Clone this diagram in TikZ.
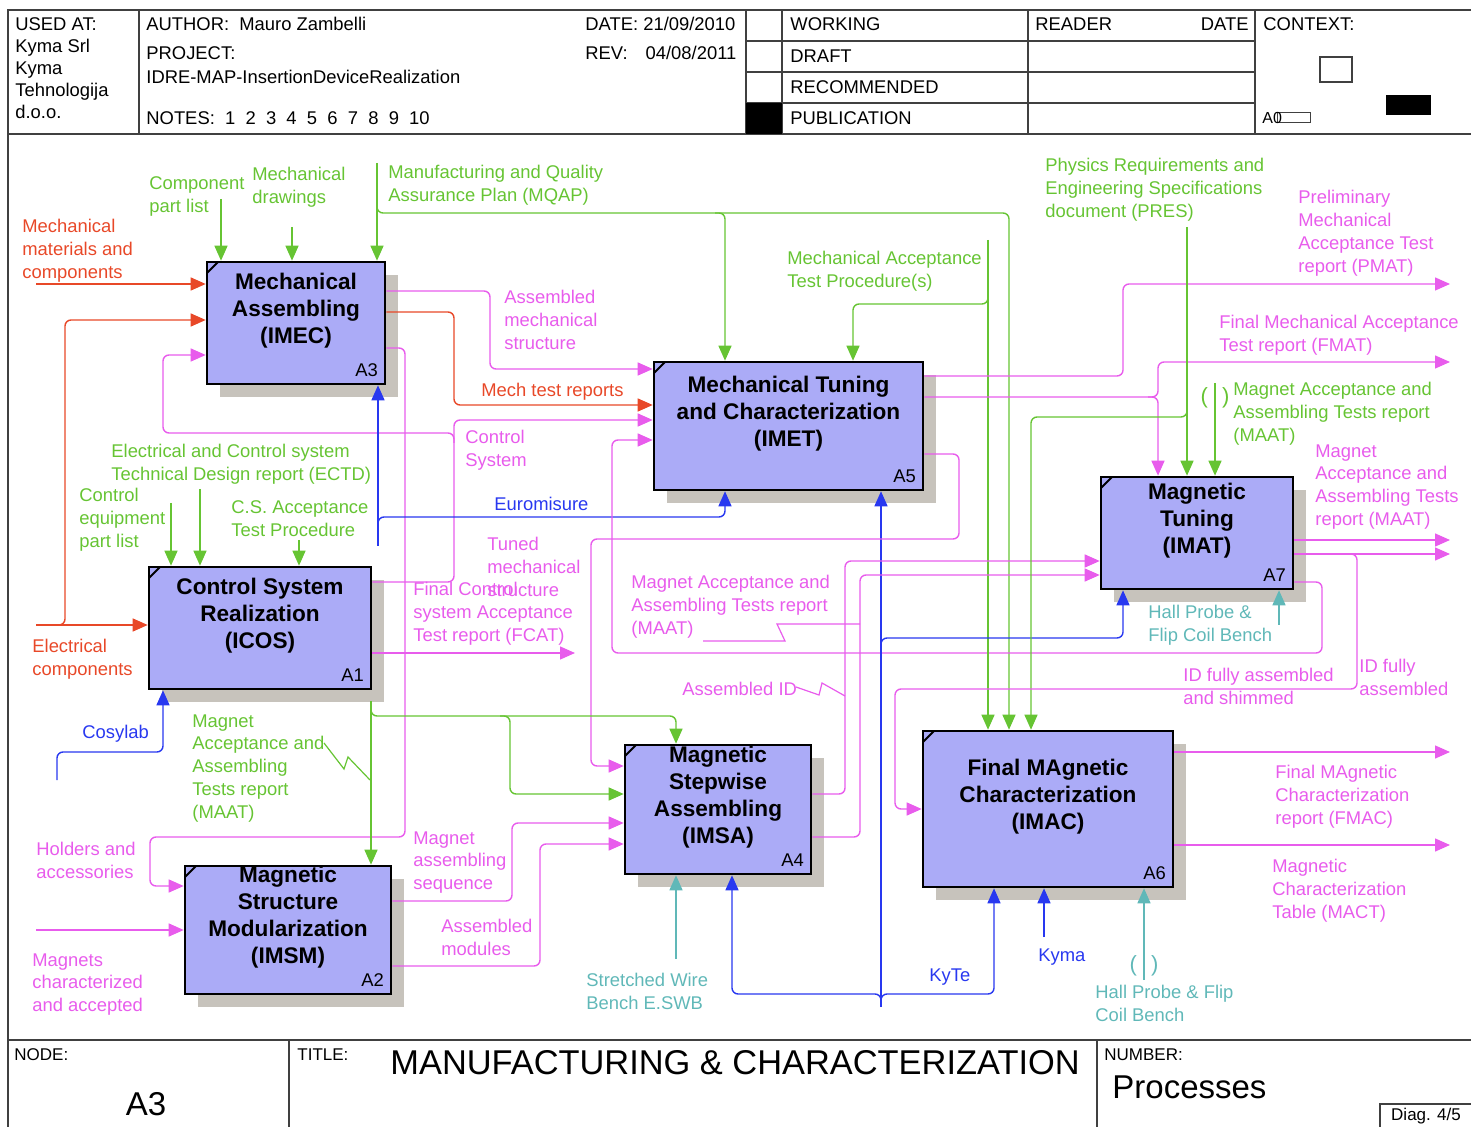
\documentclass[tikz,border=0pt]{standalone}
\usepackage{fontspec}
\setmainfont{Liberation Sans}
\usetikzlibrary{arrows.meta,shadows}

\definecolor{cgreen}{RGB}{102,196,51}
\definecolor{cred}{RGB}{232,72,40}
\definecolor{cmag}{RGB}{232,92,236}
\definecolor{cblue}{RGB}{40,56,240}
\definecolor{cteal}{RGB}{96,184,184}
\definecolor{boxfill}{RGB}{171,171,247}
\definecolor{shadowc}{RGB}{199,195,188}

\tikzset{
    process/.style={draw=black, line width=1.3pt, fill=boxfill, inner sep=0pt, align=center,
        font=\fontsize{11.3}{13.5}\selectfont\bfseries, text depth=15pt,
        drop shadow={shadow xshift=6.5pt, shadow yshift=-6.5pt, fill=shadowc, opacity=1},
        path picture={\draw [line width=1pt] ([yshift=-5.5pt]path picture bounding box.north west) -- ([xshift=5.5pt]path picture bounding box.north west);}},
    boxno/.style={font=\fontsize{9.2}{11}\selectfont, inner sep=0pt, anchor=south east},
    lbl/.style={font=\fontsize{9.2}{11.4}\selectfont, align=left, anchor=north west, inner sep=0pt},
    glbl/.style={lbl, text=cgreen},
    rlbl/.style={lbl, text=cred},
    mlbl/.style={lbl, text=cmag},
    blbl/.style={lbl, text=cblue},
    tlbl/.style={lbl, text=cteal},
    hdr/.style={font=\fontsize{9.2}{11}\selectfont, anchor=west, inner sep=0pt},
    small/.style={font=\fontsize{8.5}{10}\selectfont, anchor=west, inner sep=0pt},
    big/.style={font=\fontsize{16.5}{18}\selectfont, inner sep=0pt},
    tunnel/.style={font=\fontsize{11}{11}\selectfont, inner sep=0pt},
    frame/.style={draw=black!75, line width=0.8pt},
    flow/.style={line width=0.7pt, rounded corners=3pt, -{Triangle[length=7.5pt, width=6.5pt]}},
    garrow/.style={flow, draw=cgreen},
    rarrow/.style={flow, draw=cred},
    marrow/.style={flow, draw=cmag},
    barrow/.style={flow, draw=cblue},
    tarrow/.style={flow, draw=cteal},
    squiggle/.style={line width=0.6pt}
}

\begin{document}
\begin{tikzpicture}[x=0.5pt, y=-0.5pt]
    \useasboundingbox (0,0) rectangle (1471,1127);

    \draw [frame] (8,1127) -- (8,10) -- (1471,10);
    \draw [frame] (8,134) -- (1471,134);
    \draw [frame] (8,1040) -- (1471,1040);
    \foreach \xx in {139,746,782,1028,1255}
        \draw [frame] (\xx,10) -- (\xx,134);
    \foreach \yy in {41,72,103}
        \draw [frame] (746,\yy) -- (1255,\yy);
    \fill (746,103) rectangle (782,134);
    \foreach \xx in {289,1097}
        \draw [frame] (\xx,1040) -- (\xx,1127);
    \draw [frame] (1320,57) rectangle (1352,82);
    \fill (1386,95) rectangle (1431,115);
    \draw [frame, line width=0.5pt] (1277,113) rectangle (1310,123);
    \draw [frame] (1380,1127) -- (1380,1104) -- (1471,1104);

    \node [lbl, font=\fontsize{9.2}{11}\selectfont] (usedat) at (15,17) {USED AT:\\Kyma Srl\\Kyma\\Tehnologija\\d.o.o.};
    \node [hdr] (author) at (146,24) {AUTHOR:\ \ Mauro Zambelli};
    \node [hdr] (project) at (146,53) {PROJECT:};
    \node [hdr] (projname) at (146,77) {IDRE-MAP-InsertionDeviceRealization};
    \node [hdr] (notes) at (146,118) {NOTES:\ \ 1\ \ 2\ \ 3\ \ 4\ \ 5\ \ 6\ \ 7\ \ 8\ \ 9\ \ 10};
    \node [hdr] (date) at (585,24) {DATE: 21/09/2010};
    \node [hdr] (rev) at (585,53) {REV:\hspace{9pt}04/08/2011};
    \node [hdr] (working) at (790,24) {WORKING};
    \node [hdr] (draft) at (790,56) {DRAFT};
    \node [hdr] (recom) at (790,87) {RECOMMENDED};
    \node [hdr] (public) at (790,118) {PUBLICATION};
    \node [hdr] (reader) at (1035,24) {READER};
    \node [hdr, anchor=east] (rdate) at (1249,24) {DATE};
    \node [hdr] (context) at (1263,24) {CONTEXT:};
    \node [hdr, font=\fontsize{8}{9}\selectfont] (azero) at (1262,118) {A0};

    \node [small] (nodelbl) at (14,1055) {NODE:};
    \node [big] (nodeno) at (146,1104) {A3};
    \node [small] (titlelbl) at (297,1055) {TITLE:};
    \node [big, anchor=west, font=\fontsize{17.2}{19}\selectfont] (title) at (390,1063) {MANUFACTURING \& CHARACTERIZATION};
    \node [small] (numberlbl) at (1104,1055) {NUMBER:};
    \node [big, anchor=west] (number) at (1112,1087) {Processes};
    \node [small, anchor=center] (diag) at (1426,1116) {Diag. 4/5};

    \node [process, minimum width=89pt, minimum height=61pt] (imec) at (296,323) {Mechanical\\Assembling\\(IMEC)};
    \node [process, minimum width=134.5pt, minimum height=64pt] (imet) at (788.5,426) {Mechanical Tuning\\and Characterization\\(IMET)};
    \node [process, minimum width=96pt, minimum height=56pt] (imat) at (1197,533) {Magnetic\\Tuning\\(IMAT)};
    \node [process, minimum width=111pt, minimum height=61pt] (icos) at (260,628) {Control System\\Realization\\(ICOS)};
    \node [process, minimum width=93pt, minimum height=64.5pt] (imsa) at (718,809.5) {Magnetic\\Stepwise\\Assembling\\(IMSA)};
    \node [process, minimum width=125pt, minimum height=78pt] (imac) at (1048,809) {Final MAgnetic\\Characterization\\(IMAC)};
    \node [process, minimum width=103pt, minimum height=64pt] (imsm) at (288,930) {Magnetic\\Structure\\Modularization\\(IMSM)};

    \node [boxno] (imec-no) at ([shift={(-8,-8)}]imec.south east) {A3};
    \node [boxno] (imet-no) at ([shift={(-8,-8)}]imet.south east) {A5};
    \node [boxno] (imat-no) at ([shift={(-8,-8)}]imat.south east) {A7};
    \node [boxno] (icos-no) at ([shift={(-8,-8)}]icos.south east) {A1};
    \node [boxno] (imsa-no) at ([shift={(-8,-8)}]imsa.south east) {A4};
    \node [boxno] (imac-no) at ([shift={(-8,-8)}]imac.south east) {A6};
    \node [boxno] (imsm-no) at ([shift={(-8,-8)}]imsm.south east) {A2};

    \coordinate (mmat) at (36,284);
    \coordinate (elec) at (36,625);
    \coordinate (cpl) at (221,199);
    \coordinate (mdr) at (292,227);
    \coordinate (mqap) at (377,163);
    \coordinate (matp) at (988,240);
    \coordinate (pres) at (1187,227);
    \coordinate (maatin) at (1215,383);
    \coordinate (cep) at (171,503);
    \coordinate (ectd) at (200,489);
    \coordinate (csat) at (299,540);
    \coordinate (maatctl) at (371,701);
    \coordinate (euro) at (378,546);
    \coordinate (cosy) at (57,780);
    \coordinate (kyte) at (881,1007);
    \coordinate (kyma) at (1044,937);
    \coordinate (hallA) at (1279,625);
    \coordinate (hallB) at (1144,980);
    \coordinate (eswb) at (676,959);
    \coordinate (mchar) at (36,930);
    \coordinate (pmat) at (1450,284);
    \coordinate (fmat) at (1450,362);
    \coordinate (maatout) at (1450,540);
    \coordinate (idfa) at (1450,554);
    \coordinate (fmac) at (1450,752);
    \coordinate (mact) at (1450,845);
    \coordinate (fcat) at (575,653);

    \draw [rarrow] (mmat) -- (imec.west |- mmat);
    \draw [rarrow] (elec) -- (icos.west |- elec);
    \draw [rarrow] (55,625) -| (65,320) -- (imec.west |- 0,320);
    \draw [marrow] (icos.east |- 0,582) -| (454,420) -- (imet.west |- 0,420);
    \draw [marrow] (454,443) |- (163,433) |- (imec.west |- 0,355);
    \draw [garrow] (cpl) -- (imec.north -| cpl);
    \draw [garrow] (mdr) -- (imec.north -| mdr);
    \draw [garrow] (mqap) -- (imec.north -| mqap);
    \draw [garrow] (377,203) |- (1009,213) -- (imac.north -| 1009,0);
    \draw [garrow] (715,213) -| (imet.north -| 725,0);
    \draw [marrow] (imec.east |- 0,291) -| (490,369) -- (imet.west |- 0,369);
    \draw [rarrow] (imec.east |- 0,312) -| (454,405) -- (imet.west |- 0,405);
    \draw [marrow] (imec.east |- 0,348) -| (405,837) -| (150,886) -- (imsm.west |- 0,886);
    \draw [barrow] (euro) -- (imec.south -| euro);
    \draw [barrow] (378,527) |- (725,517) -- (imet.south -| 725,0);

    \draw [marrow] (imat.east |- 0,582) -| (1322,653) -| (612,440) -- (imet.west |- 0,440);
    \draw [garrow] (matp) -- (imac.north -| matp);
    \draw [garrow] (988,294) |- (853,304) -- (imet.north -| 853,0);
    \draw [barrow] (kyte) -- (imet.south -| kyte);
    \draw [barrow] (881,1001) |- (732,994) -- (imsa.south -| 732,0);
    \draw [barrow] (881,1001) |- (994,994) -- (imac.south -| 994,0);
    \draw [barrow] (881,648) |- (1123,638) -- (imat.south -| 1123,0);
    \draw [marrow] (imet.east |- 0,376) -| (1123,284) -- (pmat);
    \draw [marrow] (imet.east |- 0,397) -| (1158,362) -- (fmat);
    \draw [marrow] (1148,397) -| (imat.north -| 1158,0);
    \draw [marrow] (imet.east |- 0,454) -| (959,539) -| (591,766) -- (imsa.west |- 0,766);

    \draw [marrow] (imsa.east |- 0,794) -| (845,561) -- (imat.west |- 0,561);
    \draw [marrow] (imsa.east |- 0,837) -| (860,575) -- (imat.west |- 0,575);
    \draw [garrow] (pres) -- (imat.north -| pres);
    \draw [garrow] (1187,407) |- (1031,417) -- (imac.north -| 1031,0);
    \draw [garrow] (maatin) -- (imat.north -| maatin);
    \draw [tarrow] (hallA) -- (imat.south -| hallA);
    \draw [marrow] (imat.east |- 0,540) -- (maatout);
    \draw [marrow] (imat.east |- 0,554) -- (idfa);
    \draw [marrow] (1347,554) -| (1357,689) -| (895,809) -- (imac.west |- 0,809);

    \draw [barrow] (kyma) -- (imac.south -| kyma);
    \draw [tarrow] (hallB) -- (imac.south -| hallB);
    \draw [marrow] (imac.east |- 0,752) -- (fmac);
    \draw [marrow] (imac.east |- 0,845) -- (mact);

    \draw [garrow] (cep) -- (icos.north -| cep);
    \draw [garrow] (ectd) -- (icos.north -| ectd);
    \draw [garrow] (csat) -- (icos.north -| csat);
    \draw [barrow] (cosy) |- (163,752) -- (icos.south -| 163,0);
    \draw [marrow] (icos.east |- 0,653) -- (fcat);

    \draw [garrow] (maatctl) -- (imsm.north -| maatctl);
    \draw [garrow] (371,706) |- (676,716) -- (imsa.north -| 676,0);
    \draw [garrow] (500,716) -| (510,794) -- (imsa.west |- 0,794);
    \draw [marrow] (mchar) -- (imsm.west |- mchar);
    \draw [marrow] (imsm.east |- 0,901) -| (512,823) -- (imsa.west |- 0,823);
    \draw [marrow] (imsm.east |- 0,966) -| (540,844) -- (imsa.west |- 0,844);
    \draw [tarrow] (eswb) -- (imsa.south -| eswb);

    \draw [squiggle, cgreen] (324,743) -- (344,769) -- (348,757) -- (370,780);
    \draw [squiggle, cmag] (703,641) -- (785,641) -- (777,624) -- (860,624);
    \draw [squiggle, cmag] (796,687) -- (819,695) -- (822,683) -- (845,696);
    \node [tunnel, text=cgreen] (tunA) at (1215,398) {(\hspace{7pt})};
    \node [tunnel, text=cteal] (tunB) at (1144,966) {(\hspace{7pt})};

    \node [glbl] (t-cpl) at (149,176) {Component\\part list};
    \node [glbl] (t-mdr) at (252,167) {Mechanical\\drawings};
    \node [glbl] (t-mqap) at (388,165) {Manufacturing and Quality\\Assurance Plan (MQAP)};
    \node [glbl] (t-matp) at (787,251) {Mechanical Acceptance\\Test Procedure(s)};
    \node [glbl] (t-pres) at (1045,158) {Physics Requirements and\\Engineering Specifications\\document (PRES)};
    \node [glbl] (t-maatin) at (1233,382) {Magnet Acceptance and\\Assembling Tests report\\(MAAT)};
    \node [glbl] (t-ectd) at (111,444) {Electrical and Control system\\Technical Design report (ECTD)};
    \node [glbl] (t-cep) at (79,488) {Control\\equipment\\part list};
    \node [glbl] (t-csat) at (231,500) {C.S. Acceptance\\Test Procedure};
    \node [glbl] (t-maatctl) at (192,714) {Magnet\\Acceptance and\\Assembling\\Tests report\\(MAAT)};

    \node [rlbl] (t-mmat) at (22,219) {Mechanical\\materials and\\components};
    \node [rlbl] (t-mtr) at (481,383) {Mech test reports};
    \node [rlbl] (t-elec) at (32,639) {Electrical\\components};

    \node [mlbl] (t-ams) at (504,290) {Assembled\\mechanical\\structure};
    \node [mlbl] (t-cs) at (465,430) {Control\\System};
    \node [mlbl] (t-tms) at (487,537) {Tuned\\mechanical\\structure};
    \node [mlbl] (t-fcat) at (413,582) {Final Control\\system Acceptance\\Test report (FCAT)};
    \node [mlbl] (t-maatmid) at (631,575) {Magnet Acceptance and\\Assembling Tests report\\(MAAT)};
    \node [mlbl] (t-aid) at (682,682) {Assembled ID};
    \node [mlbl] (t-pmat) at (1298,190) {Preliminary\\Mechanical\\Acceptance Test\\report (PMAT)};
    \node [mlbl] (t-fmat) at (1219,315) {Final Mechanical Acceptance\\Test report (FMAT)};
    \node [mlbl] (t-maatout) at (1315,444) {Magnet\\Acceptance and\\Assembling Tests\\report (MAAT)};
    \node [mlbl] (t-idfas) at (1183,668) {ID fully assembled\\and shimmed};
    \node [mlbl] (t-idfa) at (1359,659) {ID fully\\assembled};
    \node [mlbl] (t-hold) at (36,842) {Holders and\\accessories};
    \node [mlbl] (t-mchar) at (32,953) {Magnets\\characterized\\and accepted};
    \node [mlbl] (t-mas) at (413,831) {Magnet\\assembling\\sequence};
    \node [mlbl] (t-amod) at (441,919) {Assembled\\modules};
    \node [mlbl] (t-fmac) at (1275,765) {Final MAgnetic\\Characterization\\report (FMAC)};
    \node [mlbl] (t-mact) at (1272,859) {Magnetic\\Characterization\\Table (MACT)};

    \node [blbl] (t-euro) at (494,497) {Euromisure};
    \node [blbl] (t-cosy) at (82,725) {Cosylab};
    \node [blbl] (t-kyte) at (929,968) {KyTe};
    \node [blbl] (t-kyma) at (1038,948) {Kyma};

    \node [tlbl] (t-hallA) at (1148,605) {Hall Probe \&\\Flip Coil Bench};
    \node [tlbl] (t-eswb) at (586,973) {Stretched Wire\\Bench E.SWB};
    \node [tlbl] (t-hallB) at (1095,985) {Hall Probe \& Flip\\Coil Bench};
\end{tikzpicture}
\end{document}
